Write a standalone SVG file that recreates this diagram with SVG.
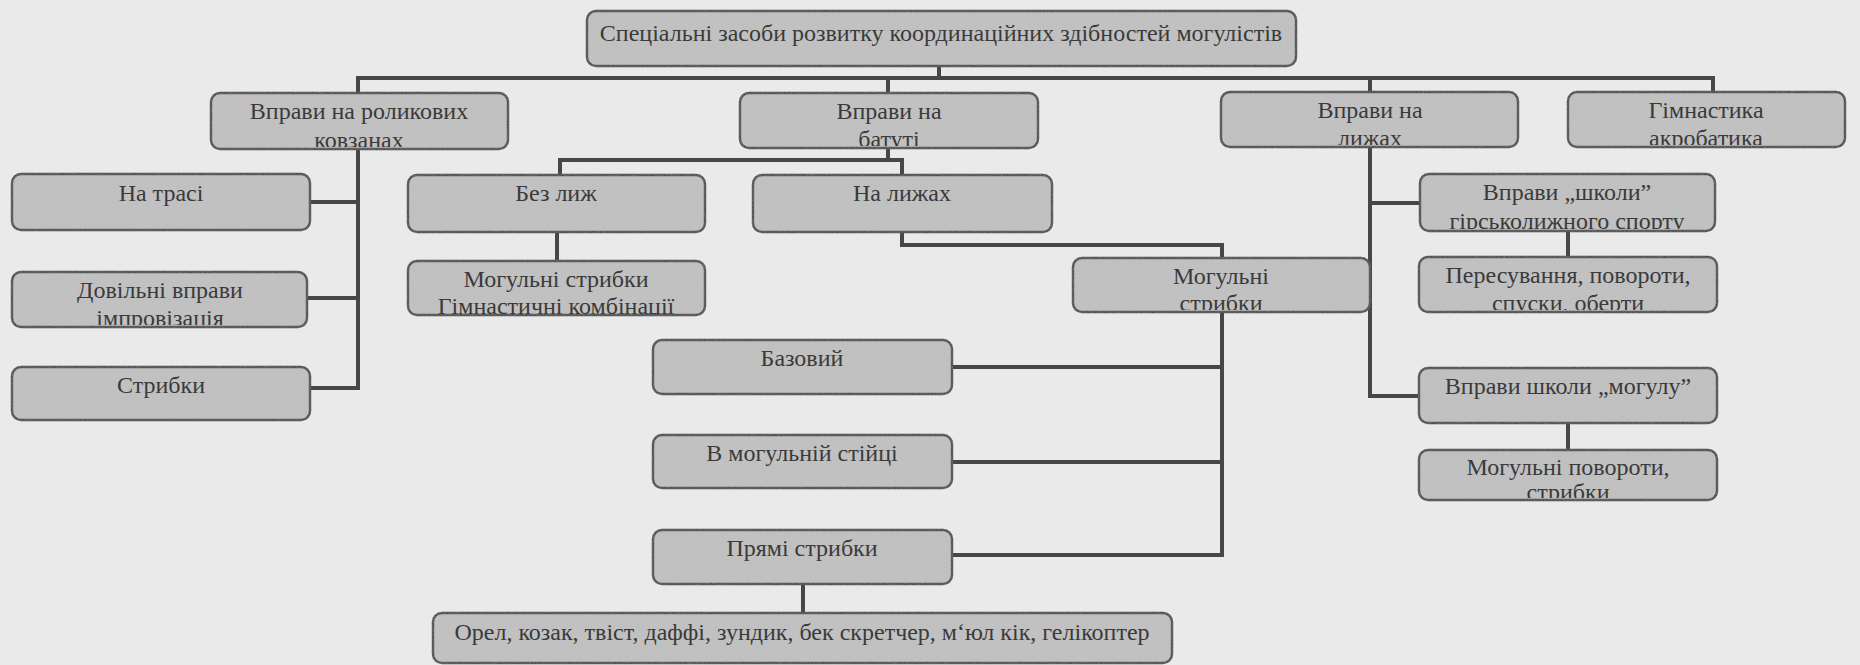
<svg xmlns="http://www.w3.org/2000/svg" width="1860" height="665" viewBox="0 0 1860 665">
<style>
.bx{fill:#c3c3c3;stroke:#474747;stroke-width:2.4;filter:url(#grain)}
.t{font-family:'Liberation Serif','Tinos','Times New Roman','DejaVu Serif',serif;font-size:24px;fill:#3a3a3a;text-anchor:middle}
.c{fill:none;stroke:#474747;stroke-width:4;stroke-linecap:square;stroke-linejoin:miter}
</style>
<defs>
<filter id="grain" x="-5%" y="-10%" width="110%" height="120%">
<feTurbulence type="fractalNoise" baseFrequency="0.9" numOctaves="2" seed="3" result="n"/>
<feColorMatrix in="n" type="matrix" values="0 0 0 0 0.45  0 0 0 0 0.45  0 0 0 0 0.45  0 0 0 0.35 -0.05" result="g"/>
<feComposite in="g" in2="SourceGraphic" operator="in" result="gi"/>
<feMerge><feMergeNode in="SourceGraphic"/><feMergeNode in="gi"/></feMerge>
</filter>
<clipPath id="c-roller"><rect x="212" y="94" width="295" height="53" rx="8"/></clipPath>
<clipPath id="c-batut"><rect x="741" y="94" width="296" height="52" rx="8"/></clipPath>
<clipPath id="c-ski"><rect x="1222" y="93" width="295" height="52" rx="8"/></clipPath>
<clipPath id="c-gym"><rect x="1569" y="93" width="275" height="52" rx="8"/></clipPath>
<clipPath id="c-free"><rect x="13" y="273" width="293" height="52" rx="8"/></clipPath>
<clipPath id="c-mogcomb"><rect x="409" y="262" width="295" height="52" rx="8"/></clipPath>
<clipPath id="c-mogj"><rect x="1074" y="259" width="295" height="51" rx="8"/></clipPath>
<clipPath id="c-school"><rect x="1421" y="175" width="293" height="54" rx="8"/></clipPath>
<clipPath id="c-move"><rect x="1420" y="258" width="296" height="52" rx="8"/></clipPath>
<clipPath id="c-mogturn"><rect x="1420" y="451" width="296" height="47" rx="8"/></clipPath>
</defs>
<rect x="0" y="0" width="1860" height="665" fill="#eaeaea"/>

<g id="connectors">
<path class="c" d="M939 66 V78"/>
<path class="c" d="M358 78 H1713"/>
<path class="c" d="M358 78 V93"/>
<path class="c" d="M888 78 V93"/>
<path class="c" d="M1370 78 V92"/>
<path class="c" d="M1713 78 V92"/>
<path class="c" d="M358 149 V388"/>
<path class="c" d="M310 202 H358"/>
<path class="c" d="M307 298 H358"/>
<path class="c" d="M310 388 H358"/>
<path class="c" d="M888 148 V160"/>
<path class="c" d="M560 175 V160 H902 V175"/>
<path class="c" d="M557 232 V261"/>
<path class="c" d="M902 232 V245 H1222 V258"/>
<path class="c" d="M1222 312 V555"/>
<path class="c" d="M952 367 H1222"/>
<path class="c" d="M952 462 H1222"/>
<path class="c" d="M952 555 H1222"/>
<path class="c" d="M803 584 V613"/>
<path class="c" d="M1370 147 V396 H1419"/>
<path class="c" d="M1370 203 H1420"/>
<path class="c" d="M1568 231 V257"/>
<path class="c" d="M1568 423 V450"/>
</g>

<g id="n-root">
<rect class="bx" x="587" y="11" width="709" height="55" rx="9"/>
<text class="t" x="941" y="41">Спеціальні засоби розвитку координаційних здібностей могулістів</text>
</g>

<g id="n-roller">
<rect class="bx" x="211" y="93" width="297" height="56" rx="9"/>
<g clip-path="url(#c-roller)"><text class="t" x="359" y="119">Вправи на роликових</text><text class="t" x="359" y="148">ковзанах</text></g>
</g>
<g id="n-batut">
<rect class="bx" x="740" y="93" width="298" height="55" rx="9"/>
<g clip-path="url(#c-batut)"><text class="t" x="889" y="119">Вправи на</text><text class="t" x="889" y="147">батуті</text></g>
</g>
<g id="n-ski">
<rect class="bx" x="1221" y="92" width="297" height="55" rx="9"/>
<g clip-path="url(#c-ski)"><text class="t" x="1370" y="118">Вправи на</text><text class="t" x="1370" y="146">лижах</text></g>
</g>
<g id="n-gym">
<rect class="bx" x="1568" y="92" width="277" height="55" rx="9"/>
<g clip-path="url(#c-gym)"><text class="t" x="1706" y="118">Гімнастика</text><text class="t" x="1706" y="146">акробатика</text></g>
</g>

<g id="n-track">
<rect class="bx" x="12" y="174" width="298" height="56" rx="9"/>
<text class="t" x="161" y="201">На трасі</text>
</g>
<g id="n-free">
<rect class="bx" x="12" y="272" width="295" height="55" rx="9"/>
<g clip-path="url(#c-free)"><text class="t" x="160" y="298">Довільні вправи</text><text class="t" x="160" y="326">імпровізація</text></g>
</g>
<g id="n-jumps">
<rect class="bx" x="12" y="367" width="298" height="53" rx="9"/>
<text class="t" x="161" y="393">Стрибки</text>
</g>

<g id="n-noski">
<rect class="bx" x="408" y="175" width="297" height="57" rx="9"/>
<text class="t" x="556" y="201">Без лиж</text>
</g>
<g id="n-mogcomb">
<rect class="bx" x="408" y="261" width="297" height="54" rx="9"/>
<g clip-path="url(#c-mogcomb)"><text class="t" x="556" y="287">Могульні стрибки</text><text class="t" x="556" y="314">Гімнастичні комбінації</text></g>
</g>
<g id="n-onski">
<rect class="bx" x="753" y="175" width="299" height="57" rx="9"/>
<text class="t" x="902" y="201">На лижах</text>
</g>
<g id="n-mogj">
<rect class="bx" x="1073" y="258" width="297" height="54" rx="9"/>
<g clip-path="url(#c-mogj)"><text class="t" x="1221" y="284">Могульні</text><text class="t" x="1221" y="311">стрибки</text></g>
</g>
<g id="n-base">
<rect class="bx" x="653" y="340" width="299" height="54" rx="9"/>
<text class="t" x="802" y="366">Базовий</text>
</g>
<g id="n-stance">
<rect class="bx" x="653" y="435" width="299" height="53" rx="9"/>
<text class="t" x="802" y="461">В могульній стійці</text>
</g>
<g id="n-straight">
<rect class="bx" x="653" y="530" width="299" height="54" rx="9"/>
<text class="t" x="802" y="556">Прямі стрибки</text>
</g>
<g id="n-list">
<rect class="bx" x="433" y="613" width="739" height="50" rx="9"/>
<text class="t" x="802" y="640">Орел, козак, твіст, даффі, зундик, бек скретчер, м‘юл кік, гелікоптер</text>
</g>

<g id="n-school">
<rect class="bx" x="1420" y="174" width="295" height="57" rx="9"/>
<g clip-path="url(#c-school)"><text class="t" x="1567" y="200">Вправи „школи”</text><text class="t" x="1567" y="229">гірськолижного спорту</text></g>
</g>
<g id="n-move">
<rect class="bx" x="1419" y="257" width="298" height="55" rx="9"/>
<g clip-path="url(#c-move)"><text class="t" x="1568" y="283">Пересування, повороти,</text><text class="t" x="1568" y="311">спуски, оберти</text></g>
</g>
<g id="n-mogul">
<rect class="bx" x="1419" y="368" width="298" height="55" rx="9"/>
<text class="t" x="1568" y="394">Вправи школи „могулу”</text>
</g>
<g id="n-mogturn">
<rect class="bx" x="1419" y="450" width="298" height="50" rx="9"/>
<g clip-path="url(#c-mogturn)"><text class="t" x="1568" y="475">Могульні повороти,</text><text class="t" x="1568" y="500">стрибки</text></g>
</g>
</svg>
